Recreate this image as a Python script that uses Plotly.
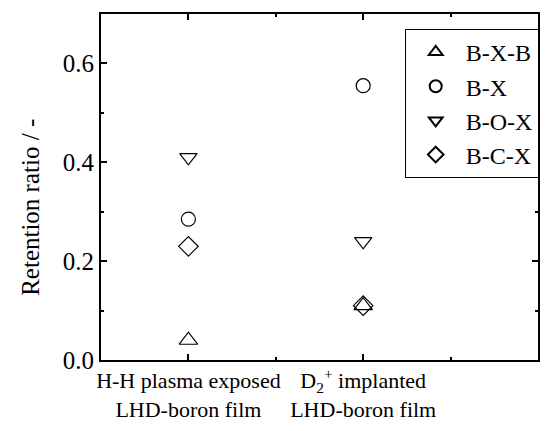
import plotly.graph_objects as go

categories = ["H-H plasma exposed<br>LHD-boron film", "D<sub>2</sub><sup>+</sup> implanted<br>LHD-boron film"]
cat_pos = [1, 2]
series_names = ["B-X-B", "B-X", "B-O-X", "B-C-X"]
b_x_b = [0.04, 0.11]
b_x = [0.285, 0.555]
b_o_x = [0.41, 0.24]
b_c_x = [0.23, 0.11]
y_title = "Retention ratio / -"
symbols = ["triangle-up-open", "circle-open", "triangle-down-open", "diamond-open"]
sizes = [16, 14, 15, 15]

FONT = "Liberation Serif"

fig = go.Figure()
for name, vals, sym, sz in zip(series_names, [b_x_b, b_x, b_o_x, b_c_x], symbols, sizes):
    fig.add_trace(go.Scatter(
        x=cat_pos, y=vals, mode="markers", name=name,
        marker=dict(symbol=sym, size=sz, color="black", line=dict(width=1.2, color="black")),
    ))

fig.add_annotation(x=-0.163, y=0.442, xref="paper", yref="paper", text=y_title, showarrow=False,
                   textangle=-90, xanchor="center", yanchor="middle",
                   font=dict(family=FONT, size=25, color="black"))

fig.update_layout(
    width=548, height=431,
    margin=dict(l=101, r=8, t=14, b=71),
    paper_bgcolor="white", plot_bgcolor="white",
    showlegend=True,
    legend=dict(x=0.695, y=0.957, xanchor="left", yanchor="top",
                bgcolor="white", bordercolor="black", borderwidth=1,
                font=dict(family=FONT, size=24, color="black"),
                itemsizing="constant", itemwidth=50, tracegroupgap=0),
)
fig.update_xaxes(range=[0.5, 3.0], tickmode="array", tickvals=[1, 2, 3], ticktext=categories + [""],
                 tickfont=dict(family=FONT, size=22, color="black"),
                 showline=True, linecolor="black", linewidth=2, mirror="ticks",
                 ticks="inside", ticklen=6, tickwidth=2, tickcolor="black",
                 minor=dict(tickmode="linear", tick0=0.5, dtick=1, ticks="inside", ticklen=3, tickwidth=2, tickcolor="black"),
                 showgrid=False, zeroline=False)
fig.update_yaxes(range=[0, 0.7], tickmode="linear", tick0=0, dtick=0.2, tickformat=".1f",
                 tickfont=dict(family=FONT, size=25, color="black"),
                 showline=True, linecolor="black", linewidth=2, mirror="ticks",
                 ticks="inside", ticklen=6, tickwidth=2, tickcolor="black",
                 minor=dict(tickmode="linear", tick0=0.1, dtick=0.2, ticks="inside", ticklen=3, tickwidth=2, tickcolor="black"),
                 showgrid=False, zeroline=False)

fig.write_html("out.html", config={"displayModeBar": False},
               post_script="document.body.style.margin='0';")
